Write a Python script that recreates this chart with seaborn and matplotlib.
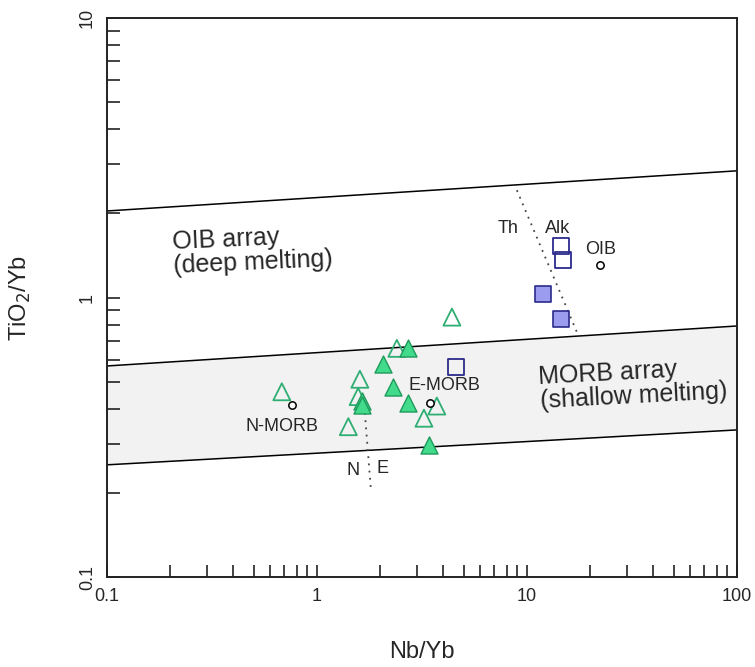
import numpy as np
import pandas as pd
import matplotlib
matplotlib.use("Agg")
import matplotlib.pyplot as plt
import seaborn as sns
from matplotlib.ticker import LogLocator, NullFormatter, FixedLocator, FixedFormatter

sns.set_theme(style="white")
plt.rcParams['font.family'] = ['Liberation Sans', 'DejaVu Sans']

# ---- data ----
# green triangles, open
tri_open_x = [4.39, 2.40, 1.60, 0.68, 1.57, 3.72, 3.23, 1.41]
tri_open_y = [0.851, 0.658, 0.510, 0.460, 0.442, 0.409, 0.370, 0.345]
# green triangles, filled
tri_fill_x = [2.72, 2.07, 2.29, 1.63, 1.64, 2.72, 3.41]
tri_fill_y = [0.658, 0.578, 0.477, 0.426, 0.412, 0.418, 0.297]
# blue squares, open
sq_open_x = [14.5, 14.8, 4.58]
sq_open_y = [1.53, 1.36, 0.566]
# blue squares, filled
sq_fill_x = [11.9, 14.5]
sq_fill_y = [1.027, 0.836]
# reference compositions
ref_names = ["N-MORB", "E-MORB", "OIB"]
ref_x = [0.762, 3.45, 22.3]
ref_y = [0.412, 0.42, 1.31]

# array boundaries (x from 0.1 to 100)
bound_x = [0.1, 100]
oib_upper_y = [2.04, 2.84]
morb_upper_y = [0.569, 0.791]
morb_lower_y = [0.252, 0.336]
# discriminant dotted lines
ne_x = [1.69, 1.81]
ne_y = [0.386, 0.201]
thalk_x = [8.95, 17.5]
thalk_y = [2.42, 0.735]

fig = plt.figure(figsize=(7.55, 6.67), dpi=100)
ax = fig.add_axes([0.1417, 0.1349, 0.8345, 0.8381])
ax.set_xscale("log")
ax.set_yscale("log")
ax.set_xlim(0.1, 100)
ax.set_ylim(0.1, 10)

ax.fill_between(bound_x, morb_lower_y, morb_upper_y, color="#f2f2f2", zorder=0, lw=0)
for yy in (oib_upper_y, morb_upper_y, morb_lower_y):
    ax.plot(bound_x, yy, color="black", lw=1.1, zorder=1)
ax.plot(ne_x, ne_y, color="#444444", lw=1.3, ls=(0, (1, 3)), zorder=1)
ax.plot(thalk_x, thalk_y, color="#444444", lw=1.3, ls=(0, (1, 3)), zorder=1)

df_to = pd.DataFrame({"x": tri_open_x, "y": tri_open_y})
df_tf = pd.DataFrame({"x": tri_fill_x, "y": tri_fill_y})
df_so = pd.DataFrame({"x": sq_open_x, "y": sq_open_y})
df_sf = pd.DataFrame({"x": sq_fill_x, "y": sq_fill_y})
df_ref = pd.DataFrame({"x": ref_x, "y": ref_y, "name": ref_names})

sns.scatterplot(data=df_to, x="x", y="y", ax=ax, marker="^", s=150,
                facecolor="none", edgecolor="#2fae73", linewidth=1.3, zorder=3)
sns.scatterplot(data=df_tf, x="x", y="y", ax=ax, marker="^", s=150,
                color="#42db8c", edgecolor="#1f9a5c", linewidth=1.0, zorder=3)
sns.scatterplot(data=df_so, x="x", y="y", ax=ax, marker="s", s=130,
                facecolor="none", edgecolor="#2b2b8c", linewidth=1.3, zorder=3)
sns.scatterplot(data=df_sf, x="x", y="y", ax=ax, marker="s", s=130,
                color="#9b9bf0", edgecolor="#2b2b8c", linewidth=1.2, zorder=3)
sns.scatterplot(data=df_ref, x="x", y="y", ax=ax, marker="o", s=28,
                facecolor="white", edgecolor="black", linewidth=1.1, zorder=4)

# text labels
big = 18
small = 13
ax.text(0.204, 1.47, "OIB array\n(deep melting)", fontsize=big, rotation=2.5,
        ha="left", va="center", linespacing=1.0)
ax.text(11.3, 0.49, "MORB array\n(shallow melting)", fontsize=big, rotation=3,
        ha="left", va="center", linespacing=1.0)
ax.text(0.68, 0.345, "N-MORB", fontsize=small, ha="center", va="center")
ax.text(4.05, 0.485, "E-MORB", fontsize=small, ha="center", va="center")
ax.text(22.5, 1.49, "OIB", fontsize=small, ha="center", va="center")
ax.text(8.12, 1.76, "Th", fontsize=small, ha="center", va="center")
ax.text(14.05, 1.77, "Alk", fontsize=small, ha="center", va="center")
ax.text(1.48, 0.241, "N", fontsize=small, ha="center", va="center")
ax.text(2.06, 0.245, "E", fontsize=small, ha="center", va="center")

ax.set_xlabel("Nb/Yb", fontsize=17, labelpad=26)
ax.set_ylabel("TiO$_2$/Yb", fontsize=17, labelpad=33)

# ticks
ax.xaxis.set_major_locator(FixedLocator([0.1, 1, 10, 100]))
ax.xaxis.set_major_formatter(FixedFormatter(["0.1", "1", "10", "100"]))
ax.yaxis.set_major_locator(FixedLocator([0.1, 1, 10]))
ax.yaxis.set_major_formatter(FixedFormatter(["0.1", "1", "10"]))
ax.xaxis.set_minor_locator(LogLocator(base=10, subs=np.arange(2, 10)))
ax.yaxis.set_minor_locator(LogLocator(base=10, subs=np.arange(2, 10)))
ax.xaxis.set_minor_formatter(NullFormatter())
ax.yaxis.set_minor_formatter(NullFormatter())
ax.tick_params(which="both", direction="in", length=9, width=1.2, color="#222222",
               top=False, right=False, bottom=True, left=True)
ax.tick_params(axis="x", which="major", labelsize=13, pad=8)
ax.tick_params(axis="y", which="major", labelsize=13, pad=8)
for lab in ax.get_yticklabels():
    lab.set_rotation(90)
    lab.set_va("center")
for sp in ax.spines.values():
    sp.set_color("#222222")
    sp.set_linewidth(1.4)
    sp.set_visible(True)
ax.grid(False)
if ax.get_legend():
    ax.get_legend().remove()

fig.savefig("out.png", dpi=100)
